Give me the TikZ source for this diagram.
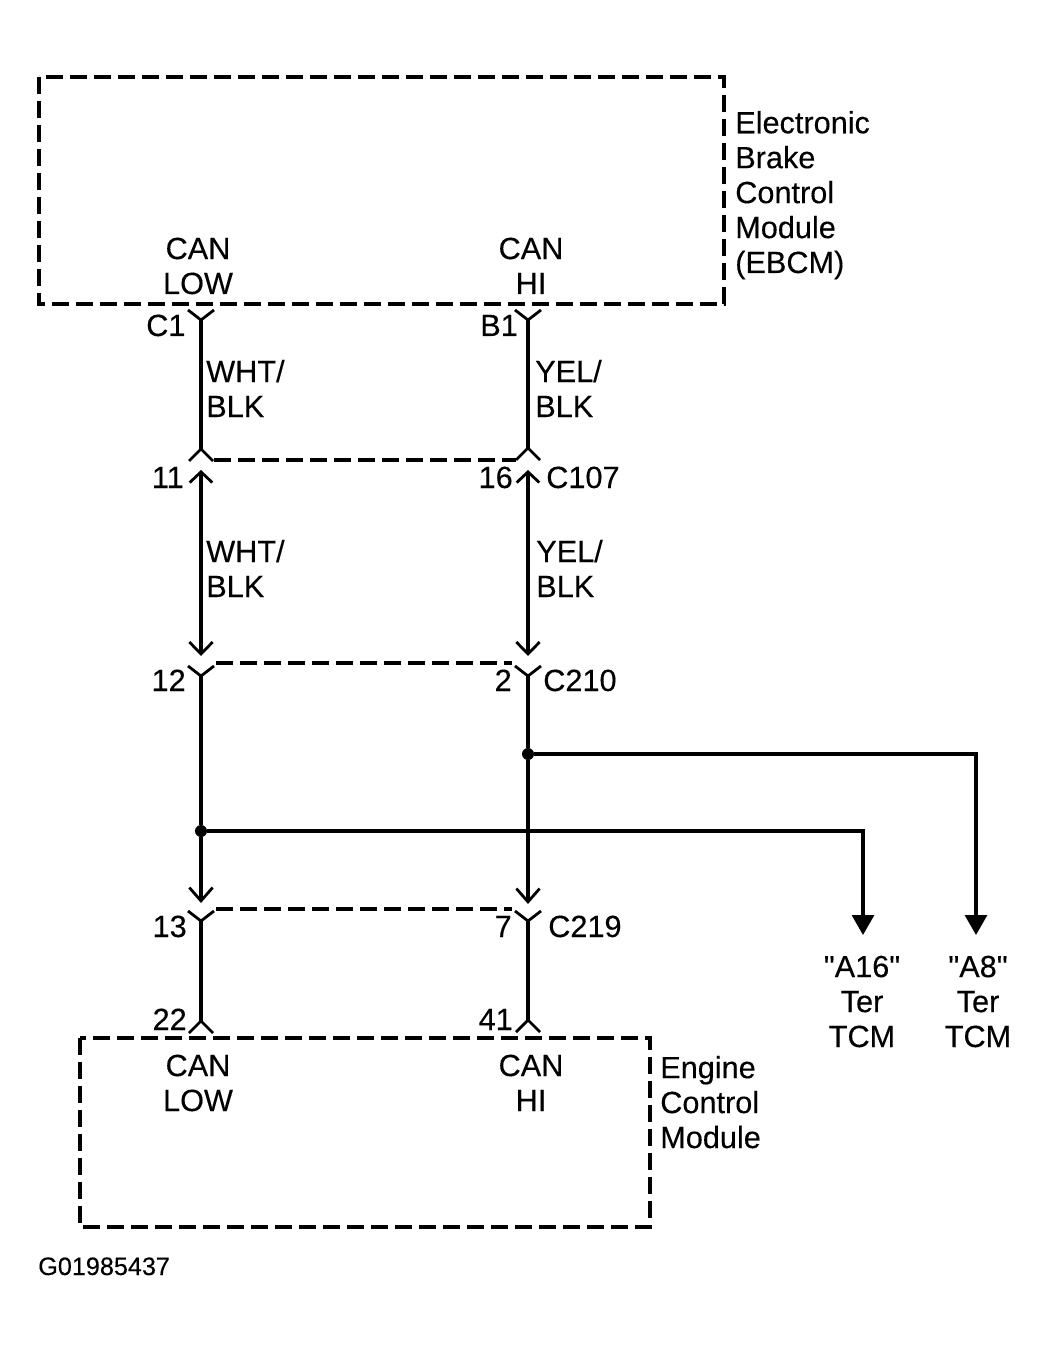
\documentclass[tikz,border=0pt]{standalone}
\usepackage{fontspec}
\setmainfont{Liberation Sans}[Ligatures=TeXOff,FakeBold=0.25]
\usetikzlibrary{arrows.meta}
\tikzset{
  x=0.75pt,y=-0.75pt,
  wire/.style={line width=2.4pt},
  thinwire/.style={line width=2.3pt},
  fork/.style={line width=2.1pt,line join=miter},
  dashbox/.style={line width=2.3pt,dash pattern=on 13pt off 5pt},
  link/.style={line width=2.3pt,dash pattern=on 12.5pt off 5.5pt},
  barb/.style={arrows={-Straight Barb[length=10pt,width=17.5pt,line width=2.1pt]}},
  dbarb/.style={arrows={Straight Barb[length=8pt,width=17pt,line width=2.1pt]-Straight Barb[length=9pt,width=17.5pt,line width=2.1pt]}},
  solid tip/.style={arrows={-Triangle[length=15pt,width=16.5pt]}},
  lab/.style={font=\fontsize{23}{26.2}\selectfont,inner sep=0pt,anchor=base west},
  labr/.style={lab,anchor=base east},
  labc/.style={lab,anchor=base,align=center},
  labl/.style={lab,align=left},
  junction/.style={circle,fill=black,inner sep=0pt,minimum size=9pt},
}
\newcommand{\forkdown}[1]{\draw[fork] ([shift={(-13,-10)}]#1) -- (#1) -- ([shift={(13,-10)}]#1);}
\newcommand{\forkup}[1]{\draw[fork] ([shift={(-12,12)}]#1) -- (#1) -- ([shift={(12,12)}]#1);}
\begin{document}
\begin{tikzpicture}
\useasboundingbox (0,0) rectangle (1049,1351);
% boxes
\draw[dashbox] (39,77) rectangle (724,304);
\draw[dashbox] (80,1038) rectangle (650,1227);
% connector points
\coordinate (c1) at (201,320);   \coordinate (b1) at (528,320);
\coordinate (c107l) at (201,449); \coordinate (c107r) at (528,448);
\coordinate (c107la) at (201,470); \coordinate (c107ra) at (528,470);
\coordinate (c210la) at (201,656); \coordinate (c210ra) at (528,656);
\coordinate (c210l) at (201,676); \coordinate (c210r) at (528,676);
\coordinate (c219la) at (201,903); \coordinate (c219ra) at (528,904);
\coordinate (c219l) at (201,921); \coordinate (c219r) at (528,921);
\coordinate (ecml) at (201,1021); \coordinate (ecmr) at (528,1020);
\coordinate (a16) at (863,935); \coordinate (a8) at (976,935);
\coordinate (a16c) at (863,831); \coordinate (a8c) at (976,754);
\node[junction] (jl) at (201,831) {};
\node[junction] (jr) at (528,754) {};
% forks
\foreach \n in {c1,b1,c210l,c210r,c219l,c219r}{\forkdown{\n}}
\foreach \n in {c107l,c107r,ecml,ecmr}{\forkup{\n}}
% wires
\draw[wire] (c1) -- (c107l);
\draw[wire] (b1) -- (c107r);
\draw[dbarb,thinwire] (c107la) -- (c210la);
\draw[dbarb,thinwire] (c107ra) -- (c210ra);
\draw[wire] (c210l) -- (jl);
\draw[barb,wire] (jl) -- (c219la);
\draw[wire] (c210r) -- (jr);
\draw[barb,wire] (jr) -- (c219ra);
\draw[thinwire] (c219l) -- (ecml);
\draw[thinwire] (c219r) -- (ecmr);
\draw[wire,solid tip] (jl) -- (a16c) -- (a16);
\draw[wire,solid tip] (jr) -- (a8c) -- (a8);
% connector bodies
\coordinate (l107a) at (214,460); \coordinate (l107b) at (516,460);
\coordinate (l210a) at (216,663); \coordinate (l210b) at (512,663);
\coordinate (l219a) at (216,909); \coordinate (l219b) at (512,909);
\draw[link] (l107a) -- (l107b);
\draw[link] (l210a) -- (l210b);
\draw[link] (l219a) -- (l219b);
% labels
\node[labl] (ebcm) at (735,273) {Electronic\\Brake\\Control\\Module\\(EBCM)};
\node[labc] (can1) at (198,294) {CAN\\LOW};
\node[labc] (can2) at (531,294) {CAN\\HI};
\node[lab] (tc1) at (146,336) {C1};
\node[lab] (tb1) at (480,336) {B1};
\node[labl] (w1) at (206,417) {WHT/\\BLK};
\node[labl] (y1) at (535,417) {YEL/\\BLK};
\node[labr] (t11) at (184,488) {11};
\node[labr] (t16) at (513,488) {16};
\node[lab] (t107) at (546,488) {C107};
\node[labl] (w2) at (206,597) {WHT/\\BLK};
\node[labl] (y2) at (536,597) {YEL/\\BLK};
\node[labr] (t12) at (186,691) {12};
\node[labr] (t2) at (512,691) {2};
\node[lab] (t210) at (543,691) {C210};
\node[labr] (t13) at (187,937) {13};
\node[labr] (t7) at (512,937) {7};
\node[lab] (t219) at (548,937) {C219};
\node[labr] (t22) at (187,1030) {22};
\node[labr] (t41) at (513,1030) {41};
\node[labc] (can3) at (198,1111) {CAN\\LOW};
\node[labc] (can4) at (531,1111) {CAN\\HI};
\node[labl] (ecm) at (660,1148) {Engine\\Control\\Module};
\node[labc] (ta16) at (862,1047) {"A16"\\Ter\\TCM};
\node[labc] (ta8) at (978,1047) {"A8"\\Ter\\TCM};
\node[lab,font=\fontsize{18.9}{22}\selectfont] (gid) at (38,1275) {G01985437};
\end{tikzpicture}
\end{document}
